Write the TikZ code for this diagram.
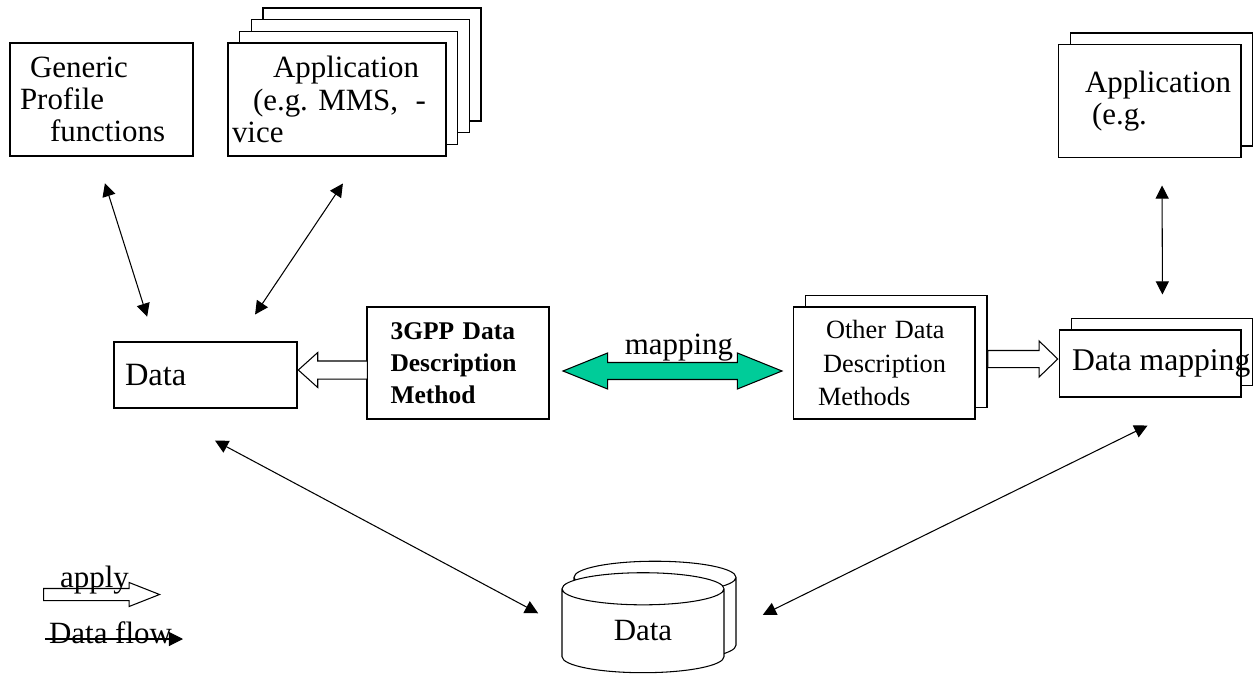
\documentclass[tikz,border=0pt]{standalone}
\usepackage{fontspec}
\setmainfont{Liberation Serif}
\usetikzlibrary{shapes.geometric,shapes.arrows,shadows,arrows.meta,positioning}
\definecolor{mapgreen}{RGB}{0,204,153}
\newcommand{\lblfont}{\fontsize{17.6}{18.4}\selectfont}
\frenchspacing

\begin{document}
\begin{tikzpicture}[x=0.02cm, y=-0.02cm,
    box/.style={rectangle, draw, fill=white, line width=0.6pt, inner ysep=0pt, align=left, font=\lblfont},
    stack/.style={copy shadow={shadow xshift=0.24cm, shadow yshift=0.23cm, draw=black, fill=white, line width=0.6pt}},
    flow/.style={{Triangle[length=7.5pt,width=7.5pt]}-{Triangle[length=7.5pt,width=7.5pt]}, line width=0.6pt},
    applyarrow/.style={single arrow, draw, fill=white, line width=0.6pt, inner xsep=0pt, shape border rotate=#1},
    applyarrow/.default=0
  ]
  \useasboundingbox (0,0) rectangle (1253,675);

  % Boxes
  \node[box, minimum width=3.66cm, minimum height=2.26cm, text width=3.26cm, inner xsep=0.2cm] (gen) at (101.5,99.5)
    {\hspace*{0.2cm}Generic\\Profile\\\hspace*{0.6cm}functions};
  \node[box,
    copy shadow={shadow xshift=0.70cm, shadow yshift=0.70cm, draw=black, fill=white, line width=0.6pt},
    copy shadow={shadow xshift=0.47cm, shadow yshift=0.47cm, draw=black, fill=white, line width=0.6pt},
    copy shadow={shadow xshift=0.234cm, shadow yshift=0.234cm, draw=black, fill=white, line width=0.6pt},
    minimum width=4.36cm, minimum height=2.26cm, text width=4.2cm, inner xsep=0.08cm] (app) at (337,99.5)
    {\hspace*{0.82cm}Application\\\hspace*{0.42cm}(e.g. MMS,\hspace{0.35cm}-\\vice};
  \node[box, stack, minimum width=3.66cm, minimum height=2.26cm, text width=3.5cm, inner xsep=0.08cm] (app2) at (1149.5,101)
    {\hspace*{0.46cm}Application\\\hspace*{0.6cm}(e.g.};
  \node[box, minimum width=3.66cm, minimum height=1.32cm, text width=3.22cm, inner xsep=0.22cm, font=\fontsize{18.5}{20}\selectfont] (data) at (205.5,375) {Data};
  \node[box, minimum width=3.64cm, minimum height=2.24cm, text width=2.7cm, inner xsep=0.47cm, font=\bfseries\fontsize{14.5}{18.2}\selectfont] (gpp) at (458,363)
    {3GPP Data\\Description\\Method};
  \node[box, stack, minimum width=3.64cm, minimum height=2.24cm, text width=2.64cm, inner xsep=0.5cm, font=\fontsize{15}{18.8}\selectfont] (other) at (884,363)
    {\hspace*{0.16cm}Other Data\\\hspace*{0.1cm}Description\\Methods};
  \node[box, stack, minimum width=3.64cm, minimum height=1.34cm, inner xsep=0.26cm, font=\fontsize{18}{20}\selectfont] (dmap) at (1150,363.5)
    {\makebox[3.12cm][l]{Data mapping}};
  \node[cylinder, shape border rotate=90, aspect=0.55, draw, fill=white, line width=0.6pt, stack, inner sep=0pt,
    minimum width=3.24cm, minimum height=2cm, font=\lblfont] (db) at (643,631) {Data};

  % Mapping
  \node[double arrow, draw, fill=mapgreen, line width=0.6pt, inner xsep=0pt, inner ysep=0.16cm, minimum height=4.38cm,
    double arrow head extend=0.19cm, double arrow tip angle=44] (map) at (672.5,371) {};
  \node[font=\lblfont, inner sep=0pt] (maplbl) at (679,348) {mapping};

  % Apply arrows
  \node[applyarrow=180, inner ysep=0.17cm, minimum height=1.38cm, single arrow head extend=0.17cm,
    single arrow tip angle=84, anchor=tip] (use1) at ([yshift=0.1cm]data.east) {};
  \node[applyarrow, inner ysep=0.16cm, minimum height=1.4cm, single arrow head extend=0.19cm,
    single arrow tip angle=88, anchor=tip] (use2) at ([yshift=0.09cm]dmap.west) {};

  % Data flows
  \draw[flow, shorten <=0.56cm, shorten >=0.52cm] ([xshift=-0.1cm]gen.south) -- ([xshift=-1.01cm]data.north);
  \draw[flow, shorten <=0.65cm, shorten >=0.65cm] ([xshift=0.48cm]app.south) -- ([xshift=0.63cm]data.north);
  \draw[flow, shorten <=0.55cm, shorten >=0.7cm] ([xshift=0.25cm]app2.south) -- ([xshift=0.25cm]dmap.north);
  \draw[flow, shorten <=1.36cm, shorten >=0.54cm] ([xshift=-1.01cm]data.south) -- ([xshift=-1.62cm,yshift=0.1cm]db.center);
  \draw[flow, shorten <=1.27cm, shorten >=0.6cm] ([xshift=1.09cm]dmap.south) -- ([xshift=1.86cm,yshift=0.06cm]db.center);

  % Legend
  \node[applyarrow, inner ysep=0.11cm, minimum height=2.32cm, single arrow head extend=0.12cm,
    single arrow tip angle=43, anchor=tip] (key1) at (161,594.5) {};
  \node[font=\lblfont, inner sep=0pt] (key1lbl) at (94.5,580) {apply};
  \node[font=\lblfont, inner sep=0pt] (key2lbl) at (110.5,632.5) {Data flow};
  \coordinate (key2a) at (45,639);
  \coordinate (key2b) at (183,639);
  \draw[-{Triangle[length=8pt,width=8pt]}, line width=0.6pt] (key2a) -- (key2b);
\end{tikzpicture}
\end{document}
